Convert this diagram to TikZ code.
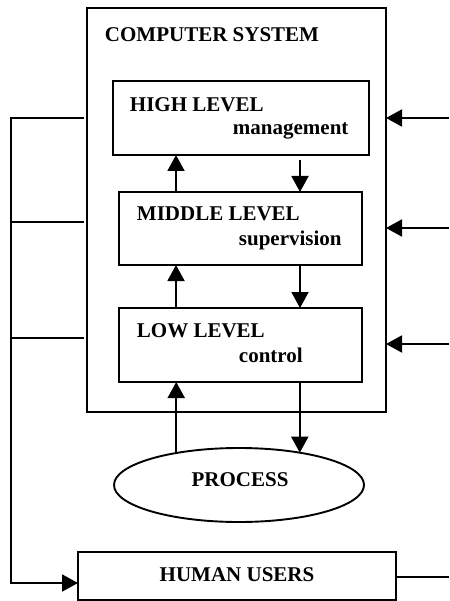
\documentclass[tikz,border=0pt]{standalone}
\usepackage{fontspec}
\setmainfont{Liberation Serif}
\usetikzlibrary{arrows.meta, positioning, shapes.geometric, calc}
\tikzset{
  every picture/.style={line width=1.9pt, font=\fontsize{21}{25}\selectfont\bfseries},
  box/.style={draw, rectangle, inner sep=0pt, outer sep=0pt},
  oval/.style={draw, ellipse, inner sep=0pt, outer sep=0pt},
  arrow/.style={-{Triangle[length=16pt, width=17pt]}},
  lbl/.style={anchor=base west, inner sep=0pt},
}

\begin{document}
\begin{tikzpicture}[x=1pt, y=-1pt]
  \useasboundingbox (0,0) rectangle (449,601);
  % computer system frame
  \node[box, minimum width=299pt, minimum height=404pt] (sys) at (236.5,210) {};
  \node[lbl] (systitle) at (104,42) {COMPUTER SYSTEM};
  % three levels
  \node[box, minimum width=256pt, minimum height=74pt] (high) at (241,118) {};
  \node[lbl] (hightop) at (129,112) {HIGH LEVEL};
  \node[lbl] (highsub) at (232,135) {management};
  \node[box, minimum width=243pt, minimum height=73pt] (mid) at (240.5,228.5) {};
  \node[lbl] (midtop) at (136,221) {MIDDLE LEVEL};
  \node[lbl] (midsub) at (238,245) {supervision};
  \node[box, minimum width=243pt, minimum height=74pt] (low) at (240.5,345) {};
  \node[lbl] (lowtop) at (136,337) {LOW LEVEL};
  \node[lbl] (lowsub) at (238,362) {control};
  % process and users
  \node[oval, minimum width=250pt, minimum height=74pt] (proc) at (239,485) {};
  \node[anchor=base, inner sep=0pt] (proctxt) at (240,486) {PROCESS};
  \node[box, minimum width=318pt, minimum height=48pt] (human) at (237,576) {};
  \node[anchor=base, inner sep=0pt] (humantxt) at (237,581) {HUMAN USERS};
  % arrows between levels
  \coordinate (up) at (176,0);
  \coordinate (dn) at (300,0);
  \draw[arrow] (mid.north -| up) -- (high.south -| up);
  \draw[arrow, shorten <=5pt] (high.south -| dn) -- (mid.north -| dn);
  \draw[arrow] (low.north -| up) -- (mid.south -| up);
  \draw[arrow] (mid.south -| dn) -- (low.north -| dn);
  \draw[arrow] (proc.153) -- (proc.153 |- low.south);
  \draw[arrow] (low.south -| proc.28) -- (proc.28);
  % left bus to human users
  \coordinate (b1) at (11,118);
  \coordinate (b2) at (11,222);
  \coordinate (b3) at (11,338);
  \coordinate (b4) at (11,583);
  \draw[arrow, shorten <=3pt] (b1 -| sys.west) -- (b1) -- (b4) -- (b4 -| human.west);
  \draw[shorten <=3pt] (b2 -| sys.west) -- (b2);
  \draw[shorten <=3pt] (b3 -| sys.west) -- (b3);
  % inputs from the right
  \coordinate (r1) at (449,118);
  \coordinate (r2) at (449,228);
  \coordinate (r3) at (449,344);
  \coordinate (r4) at (449,577);
  \foreach \r in {r1,r2,r3}
    \draw[arrow] (\r) -- (\r -| sys.east);
  \draw (human.east |- r4) -- (r4);
\end{tikzpicture}
\end{document}
